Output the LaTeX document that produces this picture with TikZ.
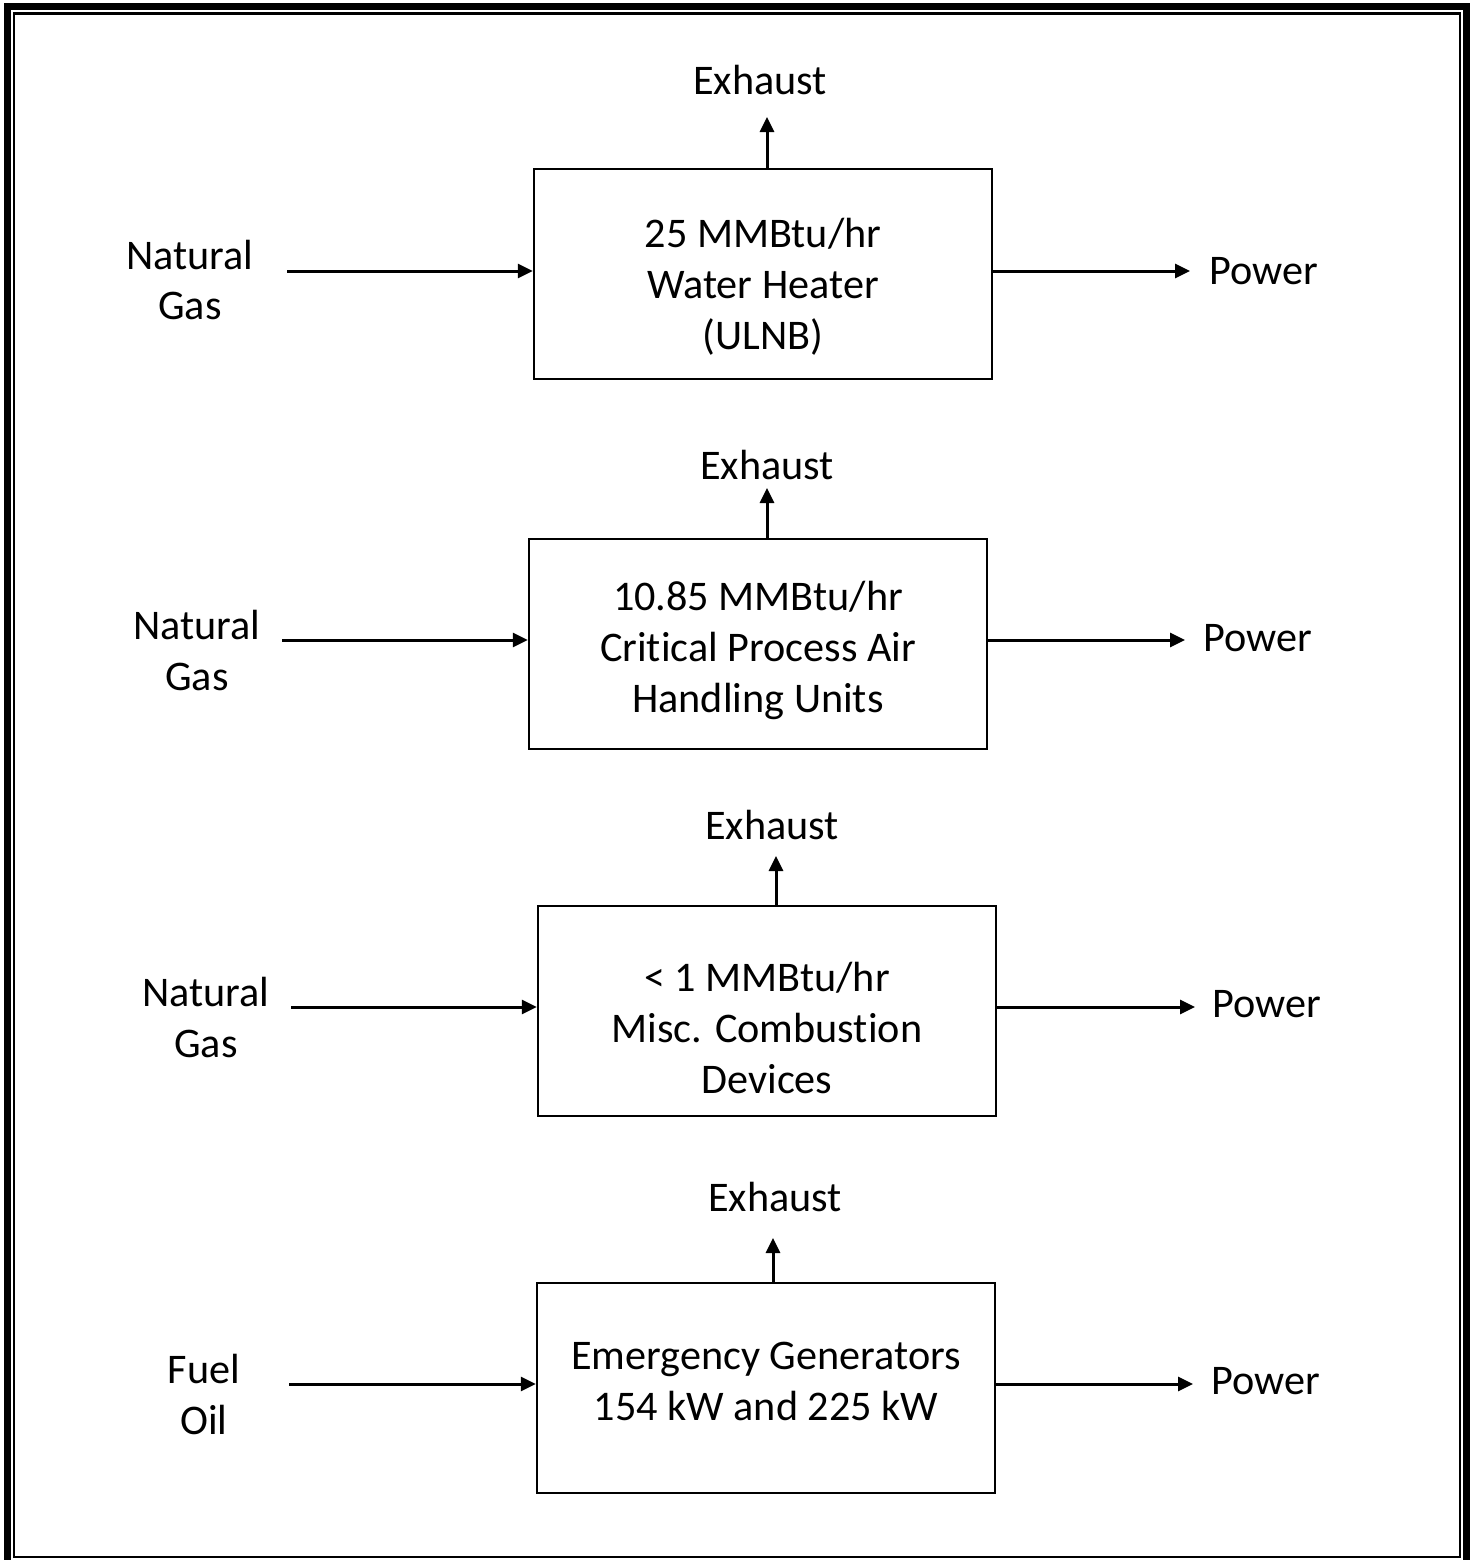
\documentclass[tikz,border=0pt]{standalone}
\usepackage{fontspec}
\setmainfont{Carlito}[Ligatures=NoCommon]
\usetikzlibrary{arrows.meta}
\tikzset{
    every path/.style={line width=0.85pt},
    box/.style={draw, line width=0.6pt, rectangle, minimum width=4.58cm, minimum height=2.10cm},
    lbl/.style={align=center, inner sep=1pt},
    flow/.style={-{Triangle[length=0.15cm,width=0.14cm]}},
    outer/.style={line width=2pt},
    inner/.style={line width=0.6pt}
}
\begin{document}
\begin{tikzpicture}[x=0.01cm, y=-0.01cm, font=\fontsize{12}{14.5}\selectfont]
\useasboundingbox (0,0) rectangle (1476,1560);
\draw[outer] (7.5,6.5) rectangle (1466.5,1566);
\draw[inner] (14,13.5) rectangle (1460,1557);

\node[box, label={[lbl,yshift=-0.13cm]center:{25 MMBtu/hr\\Water Heater\\(ULNB)}}] at (763,274) (w1) {};
\node[lbl] at (760,80) (x1) {Exhaust};
\node[lbl] at (190,280) (n1) {Natural\\Gas};
\node[lbl] at (1264,271) (p1) {Power};
\coordinate (x1a) at (767,117);
\coordinate (n1a) at (287,271);
\coordinate (p1a) at (1190,271);
\draw[flow] (x1a |- w1.north) -- (x1a);
\draw[flow] (n1a) -- (n1a -| w1.west);
\draw[flow] (p1a -| w1.east) -- (p1a);

\node[box, label={[lbl,yshift=-0.06cm]center:{10.85 MMBtu/hr\\Critical Process Air\\Handling Units}}] at (758,644) (w2) {};
\node[lbl] at (767,465) (x2) {Exhaust};
\node[lbl] at (197,650) (n2) {Natural\\Gas};
\node[lbl] at (1258,638) (p2) {Power};
\coordinate (x2a) at (767,488);
\coordinate (n2a) at (282,640);
\coordinate (p2a) at (1185,640);
\draw[flow] (x2a |- w2.north) -- (x2a);
\draw[flow] (n2a) -- (n2a -| w2.west);
\draw[flow] (p2a -| w2.east) -- (p2a);

\node[box, label={[lbl,yshift=-0.17cm]center:{< 1 MMBtu/hr\\Misc. Combustion\\Devices}}] at (767,1011) (w3) {};
\node[lbl] at (772,825) (x3) {Exhaust};
\node[lbl] at (206,1017) (n3) {Natural\\Gas};
\node[lbl] at (1267,1004) (p3) {Power};
\coordinate (x3a) at (776,856);
\coordinate (n3a) at (291,1007);
\coordinate (p3a) at (1195,1007);
\draw[flow] (x3a |- w3.north) -- (x3a);
\draw[flow] (n3a) -- (n3a -| w3.west);
\draw[flow] (p3a -| w3.east) -- (p3a);

\node[box, label={[lbl,yshift=0.07cm]center:{Emergency Generators\\154 kW and 225 kW}}] at (766,1388) (w4) {};
\node[lbl] at (775,1197) (x4) {Exhaust};
\node[lbl] at (204,1394) (n4) {Fuel\\Oil};
\node[lbl] at (1266,1381) (p4) {Power};
\coordinate (x4a) at (773,1238);
\coordinate (n4a) at (289,1384);
\coordinate (p4a) at (1193,1384);
\draw[flow] (x4a |- w4.north) -- (x4a);
\draw[flow] (n4a) -- (n4a -| w4.west);
\draw[flow] (p4a -| w4.east) -- (p4a);
\end{tikzpicture}
\end{document}
